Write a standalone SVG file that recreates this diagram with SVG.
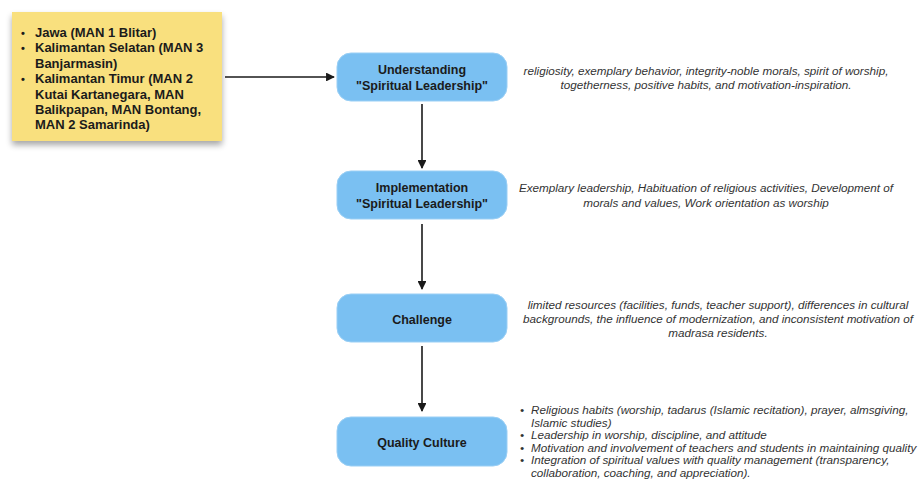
<svg xmlns="http://www.w3.org/2000/svg" width="918" height="482" viewBox="0 0 918 482">
  <defs>
    <style>
      .note { fill: #F9E07E; }
      .node rect { fill: #7AC0F2; stroke: #9ACFF5; stroke-width: 1; }
      .node text { font-family: "Liberation Sans", Arial, sans-serif; font-weight: bold; font-size: 12.5px; fill: #1b1b1b; text-anchor: middle; }
      .noteText { font-family: "Liberation Sans", Arial, sans-serif; font-weight: bold; font-size: 13px; fill: #1b1b1b; }
      .bullet { font-size: 11px; }
      .desc { font-family: "Liberation Sans", Arial, sans-serif; font-style: italic; font-size: 11.7px; fill: #333333; }
      .desc.c { text-anchor: middle; }
      .edge { stroke: #1a1a1a; stroke-width: 1.6; fill: none; marker-end: url(#arrow); }
    </style>
    <marker id="arrow" viewBox="0 0 10 10" refX="9" refY="5" markerWidth="5.5" markerHeight="5.5" orient="auto" markerUnits="strokeWidth">
      <path d="M0,0 L10,5 L0,10 z" fill="#1a1a1a"/>
    </marker>
    <filter id="noteShadow" x="-10%" y="-10%" width="120%" height="130%">
      <feGaussianBlur in="SourceAlpha" stdDeviation="3"/>
      <feOffset dx="0" dy="4" result="b"/>
      <feComponentTransfer><feFuncA type="linear" slope="0.35"/></feComponentTransfer>
      <feMerge><feMergeNode/><feMergeNode in="SourceGraphic"/></feMerge>
    </filter>
  </defs>

  <rect width="918" height="482" fill="#ffffff"/>

  <!-- sticky note listing the madrasas -->
  <g id="note-locations">
    <rect class="note" x="12" y="12" width="210" height="129" filter="url(#noteShadow)"/>
    <text class="noteText">
      <tspan class="bullet" x="21" y="37">•</tspan><tspan x="35" y="37">Jawa (MAN 1 Blitar)</tspan>
      <tspan class="bullet" x="21" y="52">•</tspan><tspan x="35" y="52">Kalimantan Selatan (MAN 3</tspan>
      <tspan x="35" y="68">Banjarmasin)</tspan>
      <tspan class="bullet" x="21" y="83">•</tspan><tspan x="35" y="83">Kalimantan Timur (MAN 2</tspan>
      <tspan x="35" y="99">Kutai Kartanegara, MAN</tspan>
      <tspan x="35" y="114">Balikpapan, MAN Bontang,</tspan>
      <tspan x="35" y="129">MAN 2 Samarinda)</tspan>
    </text>
  </g>

  <!-- process steps -->
  <g id="node-understanding" class="node">
    <rect x="337" y="53" width="170" height="48" rx="14"/>
    <text x="422" y="74">Understanding</text>
    <text x="422" y="90">"Spiritual Leadership"</text>
  </g>
  <g id="node-implementation" class="node">
    <rect x="337" y="171" width="170" height="48" rx="14"/>
    <text x="422" y="192">Implementation</text>
    <text x="422" y="208">"Spiritual Leadership"</text>
  </g>
  <g id="node-challenge" class="node">
    <rect x="337" y="294" width="170" height="48" rx="14"/>
    <text x="422" y="324">Challenge</text>
  </g>
  <g id="node-quality" class="node">
    <rect x="337" y="417" width="170" height="49" rx="14"/>
    <text x="422" y="447">Quality Culture</text>
  </g>

  <!-- descriptions beside each step -->
  <g id="desc-understanding">
    <text class="desc c" x="706" y="75">religiosity, exemplary behavior, integrity-noble morals, spirit of worship,</text>
    <text class="desc c" x="706" y="89">togetherness, positive habits, and motivation-inspiration.</text>
  </g>
  <g id="desc-implementation">
    <text class="desc c" x="706" y="192">Exemplary leadership, Habituation of religious activities, Development of</text>
    <text class="desc c" x="706" y="207">morals and values, Work orientation as worship</text>
  </g>
  <g id="desc-challenge">
    <text class="desc c" x="718" y="309">limited resources (facilities, funds, teacher support), differences in cultural</text>
    <text class="desc c" x="718" y="323">backgrounds, the influence of modernization, and inconsistent motivation of</text>
    <text class="desc c" x="718" y="337">madrasa residents.</text>
  </g>
  <g id="desc-quality">
    <text class="desc">
      <tspan x="520" y="414">•</tspan><tspan x="531" y="414">Religious habits (worship, tadarus (Islamic recitation), prayer, almsgiving,</tspan>
      <tspan x="531" y="426.5">Islamic studies)</tspan>
      <tspan x="520" y="439">•</tspan><tspan x="531" y="439">Leadership in worship, discipline, and attitude</tspan>
      <tspan x="520" y="451.5">•</tspan><tspan x="531" y="451.5">Motivation and involvement of teachers and students in maintaining quality</tspan>
      <tspan x="520" y="464">•</tspan><tspan x="531" y="464">Integration of spiritual values with quality management (transparency,</tspan>
      <tspan x="531" y="476.5">collaboration, coaching, and appreciation).</tspan>
    </text>
  </g>

  <!-- connectors -->
  <g id="connectors">
    <line class="edge" x1="225" y1="77" x2="334" y2="77"/>
    <line class="edge" x1="422" y1="104" x2="422" y2="168"/>
    <line class="edge" x1="422" y1="224" x2="422" y2="289"/>
    <line class="edge" x1="422" y1="346" x2="422" y2="411"/>
  </g>
</svg>
